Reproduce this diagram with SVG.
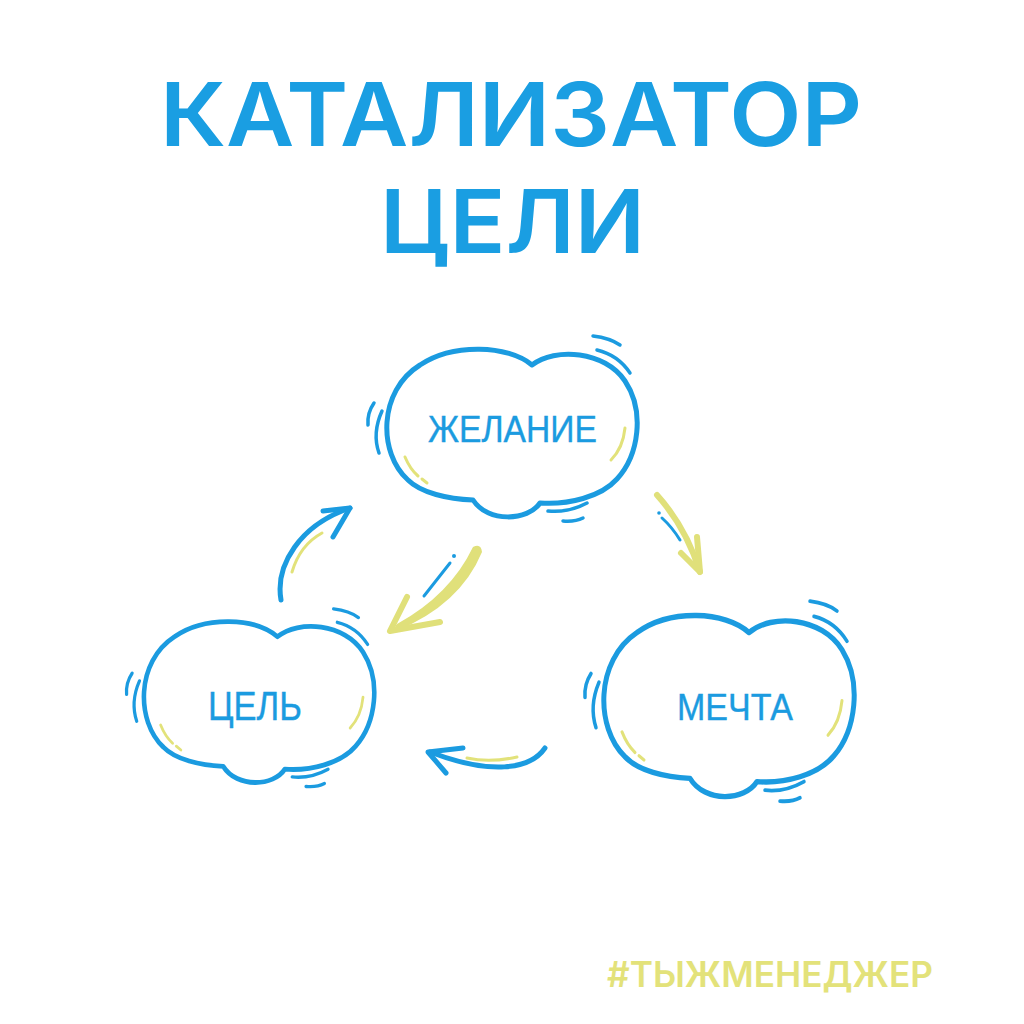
<svg xmlns="http://www.w3.org/2000/svg" xmlns:xlink="http://www.w3.org/1999/xlink" width="1024" height="1024" viewBox="0 0 1024 1024">
<style>
.title{font-family:Inter,"Liberation Sans",sans-serif;font-weight:600;fill:#1a9ee2;}
.foot{font-family:Inter,"Liberation Sans",sans-serif;font-weight:600;fill:#e3e27a;}
.lbl{font-family:"Liberation Sans","DejaVu Sans",sans-serif;font-weight:400;fill:#1b9be0;stroke:#1b9be0;stroke-width:0.4;}
.cl{fill:#fff;stroke:#1b9be0;stroke-width:5;stroke-linecap:round;stroke-linejoin:round;}
.wg{fill:none;stroke:#1b9be0;stroke-width:3.5;stroke-linecap:round;}
.hl{fill:none;stroke:#e2e27a;stroke-width:3;stroke-linecap:round;}
.ab{fill:none;stroke:#1b9be0;stroke-width:5;stroke-linecap:round;stroke-linejoin:round;}
.ay{fill:none;stroke:#e0e07a;stroke-width:6;stroke-linecap:round;stroke-linejoin:round;}
.thin{fill:none;stroke:#1b9be0;stroke-width:3;stroke-linecap:round;}
</style>
<defs>
<g id="cloud">
<path class="cl" d="M -105,47 C -135,20 -135,-42 -93,-68 C -60,-90 -5,-88 19,-68 C 42,-86 92,-82 112,-52 C 132,-22 126,22 104,46 C 88,64 55,72 27,70 C 15,88 -25,90 -40,67 C -65,66 -92,60 -105,47 Z"/>
<path class="wg" d="M -139,-30 Q -146,-20 -145,-8"/>
<path class="wg" d="M -131,-22 Q -141,0 -134,20"/>
<path class="wg" d="M 80,-97 Q 97,-95 107,-88"/>
<path class="wg" d="M 84,-83 Q 105,-78 117,-60"/>
<path class="wg" d="M 35,78 Q 55,80 74,70"/>
<path class="wg" d="M 50,88 Q 62,89 70,85"/>
<path class="hl" d="M 112,-5 Q 110,15 98,27"/>
<path class="hl" d="M -108,24 Q -103,36 -95,43"/>
<path class="hl" d="M -91,46 L -86,50"/>
</g>
</defs>
<rect width="1024" height="1024" fill="#fff"/>
<g id="title">
<text class="title" x="160" y="146" font-size="88" textLength="702" lengthAdjust="spacingAndGlyphs">КАТАЛИЗАТОР</text>
<text class="title" x="380" y="253" font-size="88" textLength="265" lengthAdjust="spacingAndGlyphs">ЦЕЛИ</text>
</g>
<g id="connectors">
<path class="hl" d="M 292,572 Q 300,545 322,533"/>
<path class="ab" d="M 281,600 C 275,565 300,525 350,508"/>
<path class="ab" d="M 323,511 L 350,508 L 333,537"/>
<path fill="#e0e07a" d="M 473,547 Q 481,543 482,552 Q 460,605 396,631 Q 393,628 397,624 Q 450,595 473,547 Z"/>
<path class="ay" stroke-width="7" d="M 407,597 L 390,631 L 440,622"/>
<path class="thin" d="M 424,596 L 450,563"/>
<circle cx="454" cy="556" r="2" fill="#1b9be0"/>
<path class="ay" stroke-width="5" d="M 657,495 C 675,515 690,540 700,572"/>
<path class="ay" stroke-width="5" d="M 681,553 L 700,572 L 697,537"/>
<path class="thin" d="M 662,518 Q 672,527 680,540"/>
<circle cx="659" cy="513" r="1.8" fill="#1b9be0"/>
<path class="hl" d="M 467,758 Q 490,763 517,757"/>
<path class="ab" d="M 545,748 C 530,770 490,775 430,752"/>
<path class="ab" d="M 463,748 L 428,752 L 446,773"/>
</g>
<g id="node-zhelanie">
<use xlink:href="#cloud" transform="translate(513,433)"/>
<text class="lbl" x="428" y="442" font-size="37" textLength="169" lengthAdjust="spacingAndGlyphs">ЖЕЛАНИЕ</text>
</g>
<g id="node-tsel">
<use xlink:href="#cloud" transform="translate(260,702) scale(0.92,0.96)"/>
<text class="lbl" x="208" y="720" font-size="40" textLength="94" lengthAdjust="spacingAndGlyphs">ЦЕЛЬ</text>
</g>
<g id="node-mechta">
<use xlink:href="#cloud" transform="translate(730,706) scale(1,1.08)"/>
<text class="lbl" x="677" y="720" font-size="37" textLength="116" lengthAdjust="spacingAndGlyphs">МЕЧТА</text>
</g>
<g id="footer">
<text class="foot" x="607" y="987" font-size="35" textLength="326" lengthAdjust="spacingAndGlyphs">#ТЫЖМЕНЕДЖЕР</text>
</g>
</svg>
